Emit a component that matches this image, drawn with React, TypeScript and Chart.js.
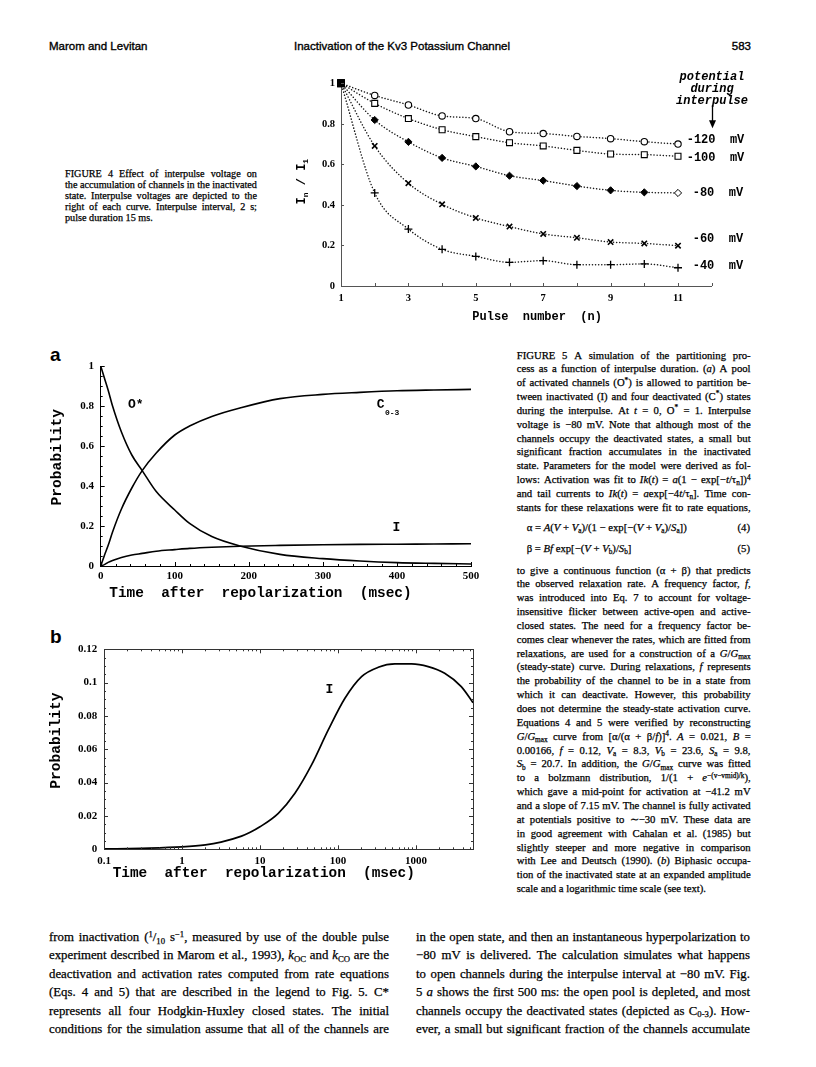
import React, { useEffect, useRef } from 'react';
import { Chart, registerables } from 'chart.js';

Chart.register(...registerables);

const MONO = '"Liberation Mono", "DejaVu Sans Mono", monospace';
const SERIF = '"Liberation Serif", "Times New Roman", serif';
const SANS = '"Liberation Sans", Arial, sans-serif';

/* ---------------- Figure 4 data ---------------- */
const pulseNumbers = [1, 2, 3, 4, 5, 6, 7, 8, 9, 10, 11];
const ratioAtMinus120 = [1.0, 0.94, 0.893, 0.839, 0.826, 0.761, 0.752, 0.738, 0.727, 0.712, 0.7];
const ratioAtMinus100 = [1.0, 0.901, 0.826, 0.771, 0.737, 0.707, 0.691, 0.669, 0.651, 0.648, 0.64];
const ratioAtMinus80 = [1.0, 0.819, 0.711, 0.632, 0.59, 0.544, 0.52, 0.493, 0.472, 0.462, 0.459];
const ratioAtMinus60 = [1.0, 0.691, 0.507, 0.403, 0.336, 0.293, 0.257, 0.238, 0.217, 0.21, 0.199];
const ratioAtMinus40 = [1.0, 0.459, 0.281, 0.181, 0.146, 0.117, 0.125, 0.105, 0.105, 0.109, 0.09];
const fig4XTickLabels = [1, 3, 5, 7, 9, 11];
const potentialLabels = ['-120  mV', '-100  mV', '-80  mV', '-60  mV', '-40  mV'];

/* ---------------- Figure 5a data ---------------- */
const timeA = [0, 5, 10, 16, 28, 42, 56, 75, 100, 120, 150, 188, 242, 300, 350, 400, 450, 500];
const openA = [1.0, 0.94, 0.88, 0.8, 0.67, 0.555, 0.477, 0.372, 0.28, 0.213, 0.147, 0.1, 0.058, 0.037, 0.025, 0.017, 0.013, 0.01];
const closedA = [0, 0.053, 0.102, 0.17, 0.285, 0.39, 0.477, 0.565, 0.655, 0.7, 0.748, 0.79, 0.837, 0.858, 0.868, 0.876, 0.88, 0.883];
const inactA = [0, 0.007, 0.018, 0.028, 0.043, 0.055, 0.063, 0.074, 0.082, 0.088, 0.094, 0.099, 0.103, 0.106, 0.108, 0.109, 0.11, 0.111];

/* ---------------- Figure 5b data ---------------- */
const timeB = [0.1, 0.3, 1, 2, 3.16, 5.8, 7.5, 10, 17.2, 28.1, 45.9, 75.2, 123, 201, 329, 538, 880, 1438, 2340, 3820, 5400];
const inactB = [0.0002, 0.0006, 0.0014, 0.0026, 0.0043, 0.0079, 0.0102, 0.0135, 0.0216, 0.0336, 0.0506, 0.0716, 0.0906, 0.1036, 0.1092, 0.1112, 0.1112, 0.1096, 0.1056, 0.0976, 0.088];
const decadesB = [0.1, 1, 10, 100, 1000];

/* ---------------- Text ---------------- */
const fig4Caption = [
  'FIGURE 4   Effect of interpulse voltage on',
  'the accumulation of channels in the inactivated',
  'state. Interpulse voltages are depicted to the',
  'right of each curve. Interpulse interval, 2 s;',
  'pulse duration 15 ms.',
];
const fig5CaptionTop = [
  'FIGURE 5   A simulation of the partitioning pro-',
  'cess as a function of interpulse duration. (_a_) A pool',
  'of activated channels (O^*^) is allowed to partition be-',
  'tween inactivated (I) and four deactivated (C^*^) states',
  'during the interpulse. At _t_ = 0, O^*^ = 1. Interpulse',
  'voltage is −80 mV. Note that although most of the',
  'channels occupy the deactivated states, a small but',
  'significant fraction accumulates in the inactivated',
  'state. Parameters for the model were derived as fol-',
  'lows: Activation was fit to _Ik_(_t_) = _a_(1 − exp[−_t_/τ~n~])^4^',
  'and tail currents to _Ik_(_t_) = _a_exp[−4_t_/τ~n~]. Time con-',
  'stants for these relaxations were fit to rate equations,',
];
const eq4 = 'α = _A_(_V_ + _V_~a~)/(1 − exp[−(_V_ + _V_~a~)/_S_~a~])';
const eq5 = 'β = _Bf_ exp[−(_V_ + _V_~b~)/_S_~b~]';
const fig5CaptionBottom = [
  'to give a continuous function (α + β) that predicts',
  'the observed relaxation rate. A frequency factor, _f_,',
  'was introduced into Eq. 7 to account for voltage-',
  'insensitive flicker between active-open and active-',
  'closed states. The need for a frequency factor be-',
  'comes clear whenever the rates, which are fitted from',
  'relaxations, are used for a construction of a _G_/_G_~max~',
  '(steady-state) curve. During relaxations, _f_ represents',
  'the probability of the channel to be in a state from',
  'which it can deactivate. However, this probability',
  'does not determine the steady-state activation curve.',
  'Equations 4 and 5 were verified by reconstructing',
  '_G_/_G_~max~ curve from [α/(α + β/_f_)]^4^. _A_ = 0.021, _B_ =',
  '0.00166, _f_ = 0.12, _V_~a~ = 8.3, _V_~b~ = 23.6, _S_~a~ = 9.8,',
  '_S_~b~ = 20.7. In addition, the _G_/_G_~max~ curve was fitted',
  'to a bolzmann distribution, 1/(1 + _e_^−(v−vmid)/k^),',
  'which gave a mid-point for activation at −41.2 mV',
  'and a slope of 7.15 mV. The channel is fully activated',
  'at potentials positive to ∼−30 mV. These data are',
  'in good agreement with Cahalan et al. (1985) but',
  'slightly steeper and more negative in comparison',
  'with Lee and Deutsch (1990). (_b_) Biphasic occupa-',
  'tion of the inactivated state at an expanded amplitude',
  'scale and a logarithmic time scale (see text).',
];
const bodyLeft = [
  'from inactivation (^1^/~10~ s^−1^, measured by use of the double pulse',
  'experiment described in Marom et al., 1993), _k_~OC~ and _k_~CO~ are the',
  'deactivation and activation rates computed from rate equations',
  '(Eqs. 4 and 5) that are described in the legend to Fig. 5. C*',
  'represents all four Hodgkin-Huxley closed states. The initial',
  'conditions for the simulation assume that all of the channels are',
];
const bodyRight = [
  'in the open state, and then an instantaneous hyperpolarization to',
  '−80 mV is delivered. The calculation simulates what happens',
  'to open channels during the interpulse interval at −80 mV. Fig.',
  '5 _a_ shows the first 500 ms: the open pool is depleted, and most',
  'channels occupy the deactivated states (depicted as C~0-3~). How-',
  'ever, a small but significant fraction of the channels accumulate',
];

/* ---------------- helpers ---------------- */
function stepValues(from: number, to: number, step: number) {
  const out: number[] = [];
  const n = Math.round((to - from) / step);
  for (let i = 0; i <= n; i++) out.push(+(from + i * step).toFixed(6));
  return out;
}

function logMinors(decades: number[], max: number) {
  const out: number[] = [];
  decades.forEach((d) => {
    for (let k = 2; k <= 9; k++) {
      const v = +(k * d).toPrecision(6);
      if (v <= max) out.push(v);
    }
  });
  return out;
}

const plainNumber = (v: any) => String(+Number(v).toFixed(3));

type TickSet = { scaleId: string; values: number[] | 'scale'; len: number; mirror?: boolean };

function makeTickPlugin(id: string, sets: TickSet[], color: string, frame: boolean) {
  return {
    id,
    afterDatasetsDraw(chart: any) {
      const { ctx, chartArea: a } = chart;
      ctx.save();
      ctx.strokeStyle = color;
      ctx.lineWidth = 1;
      ctx.beginPath();
      sets.forEach((s) => {
        const sc = chart.scales[s.scaleId];
        const vals = s.values === 'scale' ? sc.ticks.map((t: any) => t.value) : s.values;
        vals.forEach((v: number) => {
          const p = Math.round(sc.getPixelForValue(v)) + 0.5;
          if (sc.isHorizontal()) {
            ctx.moveTo(p, a.bottom);
            ctx.lineTo(p, a.bottom - s.len);
            if (s.mirror) {
              ctx.moveTo(p, a.top);
              ctx.lineTo(p, a.top + s.len);
            }
          } else {
            ctx.moveTo(a.left, p);
            ctx.lineTo(a.left + s.len, p);
            if (s.mirror) {
              ctx.moveTo(a.right, p);
              ctx.lineTo(a.right - s.len, p);
            }
          }
        });
      });
      ctx.stroke();
      if (frame) {
        ctx.strokeRect(Math.round(a.left) + 0.5, Math.round(a.top) + 0.5, Math.round(a.right - a.left), Math.round(a.bottom - a.top));
      }
      ctx.restore();
    },
  };
}

const noGrid = { display: false, drawTicks: false };

/* ---------------- Figure 4 ---------------- */
const fig4Series = [
  { name: '-120 mV', values: ratioAtMinus120, marker: 'circle', filled: false, radius: 3.2, bw: 1.1, openLast: false },
  { name: '-100 mV', values: ratioAtMinus100, marker: 'rect', filled: false, radius: 4.2, bw: 1.1, openLast: false },
  { name: '-80 mV', values: ratioAtMinus80, marker: 'rectRot', filled: true, radius: 3.6, bw: 1, openLast: true },
  { name: '-60 mV', values: ratioAtMinus60, marker: 'crossRot', filled: true, radius: 3.8, bw: 1.6, openLast: false },
  { name: '-40 mV', values: ratioAtMinus40, marker: 'cross', filled: true, radius: 4, bw: 1.3, openLast: false },
];

const fig4Decor = {
  id: 'fig4Decor',
  afterDraw(chart: any) {
    const { ctx, chartArea: a, scales } = chart;
    ctx.save();
    const ax = Math.round(scales.x.getPixelForValue(12)) + 0.5;
    const y0 = a.top + 21.7;
    const y1 = a.top + 45;
    ctx.strokeStyle = '#000';
    ctx.fillStyle = '#000';
    ctx.lineWidth = 1.3;
    ctx.beginPath();
    ctx.moveTo(ax, y0);
    ctx.lineTo(ax, y1 - 6);
    ctx.stroke();
    ctx.beginPath();
    ctx.moveTo(ax - 3.5, y1 - 8);
    ctx.lineTo(ax + 3.5, y1 - 8);
    ctx.lineTo(ax, y1);
    ctx.closePath();
    ctx.fill();
    const pieces = [
      { t: 'I', s: 12, dy: 0 },
      { t: 'n', s: 8, dy: 4 },
      { t: ' / ', s: 12, dy: 0 },
      { t: 'I', s: 12, dy: 0 },
      { t: '1', s: 8, dy: 4 },
    ];
    let total = 0;
    pieces.forEach((p) => {
      ctx.font = `bold ${p.s}px ${MONO}`;
      total += ctx.measureText(p.t).width;
    });
    ctx.translate(21.7, (a.top + a.bottom) / 2 - 3);
    ctx.rotate(-Math.PI / 2);
    ctx.textBaseline = 'middle';
    ctx.textAlign = 'left';
    let x = -total / 2;
    pieces.forEach((p) => {
      ctx.font = `bold ${p.s}px ${MONO}`;
      ctx.fillText(p.t, x, p.dy);
      x += ctx.measureText(p.t).width;
    });
    ctx.restore();
  },
};

function fig4Config() {
  const last = pulseNumbers.length - 1;
  return {
    type: 'line',
    data: {
      datasets: fig4Series.map((s) => ({
        label: s.name,
        data: pulseNumbers.map((n, i) => ({ x: n, y: s.values[i] })),
        borderColor: '#1a1a1a',
        borderWidth: 1.5,
        borderDash: [0.1, 3],
        borderCapStyle: 'round',
        cubicInterpolationMode: 'monotone',
        clip: false,
        pointStyle: (c: any) => (c.dataIndex === 0 ? 'rect' : s.marker),
        pointRadius: (c: any) => (c.dataIndex === 0 ? 4.5 : s.radius),
        pointBorderColor: '#000',
        pointBorderWidth: s.bw,
        pointBackgroundColor: (c: any) =>
          c.dataIndex === 0 ? '#000' : s.filled && !(s.openLast && c.dataIndex === last) ? '#000' : '#fff',
      })),
    },
    options: {
      animation: false,
      responsive: false,
      devicePixelRatio: 1,
      layout: { padding: { left: 0, top: 13.3, right: 58.3, bottom: 0 } },
      plugins: { legend: { display: false }, tooltip: { enabled: false } },
      scales: {
        x: {
          type: 'linear',
          min: 1,
          max: 12,
          grid: noGrid,
          border: { display: true, color: '#555', width: 1 },
          ticks: {
            stepSize: 1,
            autoSkip: false,
            maxRotation: 0,
            padding: 5.7,
            color: '#000',
            font: { family: SERIF, size: 10.5, weight: 'bold' },
            callback: (v: any) => (fig4XTickLabels.includes(v) ? String(v) : ''),
          },
          title: {
            display: true,
            text: '   Pulse  number  (n)',
            color: '#000',
            font: { family: MONO, size: 12, weight: 'bold' },
            padding: { top: 0, bottom: 16 },
          },
          afterFit: (sc: any) => {
            sc.height = 54;
          },
        },
        y: {
          type: 'linear',
          min: 0,
          max: 1,
          grid: noGrid,
          border: { display: true, color: '#555', width: 1 },
          ticks: {
            stepSize: 0.2,
            padding: 6,
            color: '#000',
            font: { family: SERIF, size: 10.5, weight: 'bold' },
            callback: plainNumber,
          },
          afterFit: (sc: any) => {
            sc.width = 61;
          },
        },
      },
    },
    plugins: [
      makeTickPlugin(
        'fig4Ticks',
        [
          { scaleId: 'x', values: 'scale', len: 3 },
          { scaleId: 'y', values: 'scale', len: 3 },
        ],
        '#555',
        false
      ),
      fig4Decor,
    ],
  };
}

/* ---------------- Figure 5a ---------------- */
function fig5aConfig() {
  const line = (values: number[], label: string) => ({
    label,
    data: timeA.map((t, i) => ({ x: t, y: values[i] })),
    borderColor: '#000',
    borderWidth: 1.6,
    pointRadius: 0,
    cubicInterpolationMode: 'monotone',
  });
  return {
    type: 'line',
    data: { datasets: [line(openA, 'O*'), line(closedA, 'C0-3'), line(inactA, 'I')] },
    options: {
      animation: false,
      responsive: false,
      devicePixelRatio: 1,
      layout: { padding: { left: 0, top: 21, right: 19, bottom: 0 } },
      plugins: { legend: { display: false }, tooltip: { enabled: false } },
      scales: {
        x: {
          type: 'linear',
          min: 0,
          max: 500,
          grid: noGrid,
          border: { display: true, color: '#000', width: 1 },
          ticks: {
            stepSize: 100,
            maxRotation: 0,
            padding: 3.4,
            color: '#000',
            font: { family: SERIF, size: 11, weight: 'bold' },
            callback: plainNumber,
          },
          title: {
            display: true,
            align: 'start',
            text: ' Time  after  repolarization  (msec)',
            color: '#000',
            font: { family: MONO, size: 14.4, weight: 'bold' },
            padding: { top: 0, bottom: 7.7 },
          },
          afterFit: (sc: any) => {
            sc.height = 44;
          },
        },
        y: {
          type: 'linear',
          min: 0,
          max: 1,
          grid: noGrid,
          border: { display: true, color: '#000', width: 1 },
          ticks: {
            stepSize: 0.2,
            padding: 6.7,
            color: '#000',
            font: { family: SERIF, size: 11, weight: 'bold' },
            callback: plainNumber,
          },
          title: {
            display: true,
            text: '  Probability',
            color: '#000',
            font: { family: MONO, size: 14.6, weight: 'bold' },
            padding: { top: 18.5, bottom: 0 },
          },
          afterFit: (sc: any) => {
            sc.width = 70.7;
          },
        },
      },
    },
    plugins: [
      makeTickPlugin(
        'fig5aTicks',
        [
          { scaleId: 'x', values: 'scale', len: 4 },
          { scaleId: 'x', values: stepValues(0, 500, 20), len: 2 },
          { scaleId: 'y', values: 'scale', len: 4 },
          { scaleId: 'y', values: stepValues(0, 1, 0.05), len: 2 },
        ],
        '#000',
        false
      ),
    ],
  };
}

/* ---------------- Figure 5b ---------------- */
function fig5bConfig() {
  return {
    type: 'line',
    data: {
      datasets: [
        {
          label: 'I',
          data: timeB.map((t, i) => ({ x: t, y: inactB[i] })),
          borderColor: '#000',
          borderWidth: 1.7,
          pointRadius: 0,
          cubicInterpolationMode: 'monotone',
        },
      ],
    },
    options: {
      animation: false,
      responsive: false,
      devicePixelRatio: 1,
      layout: { padding: { left: 0, top: 24.3, right: 17, bottom: 0 } },
      plugins: { legend: { display: false }, tooltip: { enabled: false } },
      scales: {
        x: {
          type: 'logarithmic',
          min: 0.1,
          max: 5400,
          grid: noGrid,
          border: { display: true, color: '#333', width: 1 },
          ticks: {
            autoSkip: false,
            maxRotation: 0,
            padding: 4.9,
            color: '#000',
            font: { family: SERIF, size: 11, weight: 'bold' },
            callback: (v: any) => {
              const l = Math.log10(v);
              if (Math.abs(l - Math.round(l)) > 1e-6) return '';
              return v >= 1 ? String(Math.round(v)) : v.toFixed(1);
            },
          },
          title: {
            display: true,
            align: 'start',
            text: ' Time  after  repolarization  (msec)',
            color: '#000',
            font: { family: MONO, size: 14.4, weight: 'bold' },
            padding: { top: 0, bottom: 8 },
          },
          afterFit: (sc: any) => {
            sc.height = 40.7;
          },
        },
        y: {
          type: 'linear',
          min: 0,
          max: 0.12,
          grid: noGrid,
          border: { display: true, color: '#333', width: 1 },
          ticks: {
            stepSize: 0.02,
            padding: 6.7,
            color: '#000',
            font: { family: SERIF, size: 11, weight: 'bold' },
            callback: plainNumber,
          },
          title: {
            display: true,
            text: '  Probability',
            color: '#000',
            font: { family: MONO, size: 14.6, weight: 'bold' },
            padding: { top: 17.9, bottom: 0 },
          },
          afterFit: (sc: any) => {
            sc.width = 74;
          },
        },
      },
    },
    plugins: [
      makeTickPlugin(
        'fig5bTicks',
        [
          { scaleId: 'x', values: decadesB, len: 4, mirror: true },
          { scaleId: 'x', values: logMinors(decadesB, 5400), len: 2, mirror: true },
          { scaleId: 'y', values: 'scale', len: 4, mirror: true },
          { scaleId: 'y', values: stepValues(0, 0.12, 0.005), len: 2, mirror: true },
        ],
        '#333',
        true
      ),
    ],
  };
}

/* ---------------- components ---------------- */
function rich(s: string) {
  const parts = s.split(/(_[^_]+_|\^[^^]+\^|~[^~]+~)/).filter((p) => p !== '');
  return parts.map((p, i) => {
    if (p.length > 2 && p[0] === '_' && p[p.length - 1] === '_') return <i key={i}>{p.slice(1, -1)}</i>;
    if (p.length > 2 && p[0] === '^' && p[p.length - 1] === '^')
      return (
        <span key={i} style={{ fontSize: '0.68em', position: 'relative', top: '-0.5em' }}>
          {p.slice(1, -1)}
        </span>
      );
    if (p.length > 2 && p[0] === '~' && p[p.length - 1] === '~')
      return (
        <span key={i} style={{ fontSize: '0.68em', position: 'relative', top: '0.3em' }}>
          {p.slice(1, -1)}
        </span>
      );
    return <React.Fragment key={i}>{p}</React.Fragment>;
  });
}

type LineProps = {
  text: string;
  x: number;
  y: number;
  w?: number;
  size: number;
  lh?: number;
  justify?: boolean;
  family?: string;
  align?: 'left' | 'right' | 'center';
  weight?: any;
  italic?: boolean;
  stroke?: number;
};

function TextLine({ text, x, y, w = 0, size, lh, justify = false, family = SERIF, align = 'left', weight = 'normal', italic = false, stroke = 0.25 }: LineProps) {
  const h = lh || size * 1.2;
  const base: React.CSSProperties = {
    position: 'absolute',
    top: y - h / 2,
    height: h,
    lineHeight: `${h}px`,
    fontSize: size,
    fontFamily: family,
    fontWeight: weight,
    fontStyle: italic ? 'italic' : 'normal',
    whiteSpace: 'pre',
    color: '#000',
    WebkitTextStroke: stroke ? `${stroke}px #000` : undefined,
  } as any;
  if (justify) {
    const words = text.split(' ').filter(Boolean);
    return (
      <div style={{ ...base, left: x, width: w, display: 'flex', justifyContent: 'space-between' }}>
        {words.map((wd, i) => (
          <span key={i}>{rich(wd)}</span>
        ))}
      </div>
    );
  }
  if (align === 'right') return <div style={{ ...base, right: 816 - x, textAlign: 'right' }}>{rich(text)}</div>;
  if (align === 'center') return <div style={{ ...base, left: x - 150, width: 300, textAlign: 'center' }}>{rich(text)}</div>;
  return <div style={{ ...base, left: x }}>{rich(text)}</div>;
}

function ChartCanvas({ left, top, width, height, make }: { left: number; top: number; width: number; height: number; make: () => any }) {
  const ref = useRef<HTMLCanvasElement | null>(null);
  useEffect(() => {
    if (!ref.current) return;
    const chart = new Chart(ref.current, make());
    return () => chart.destroy();
  }, [make]);
  return (
    <canvas
      ref={ref}
      width={width}
      height={height}
      style={{ position: 'absolute', left, top, width, height, display: 'block' }}
    />
  );
}

const potentialLabelPos = [
  { x: 686.7, y: 140 },
  { x: 686.7, y: 158.3 },
  { x: 692.7, y: 193.3 },
  { x: 692.7, y: 239 },
  { x: 692.7, y: 265.7 },
];

export default function App() {
  return (
    <div
      style={{
        position: 'absolute',
        left: 0,
        top: 0,
        width: 816,
        height: 1067,
        background: '#fff',
        overflow: 'hidden',
      }}
    >
      {/* running header */}
      <TextLine text="Marom and Levitan" x={49} y={47} size={11.5} family={SANS} stroke={0.35} />
      <TextLine text="Inactivation of the Kv3 Potassium Channel" x={294} y={47} size={11.5} family={SANS} stroke={0.35} />
      <TextLine text="583" x={751} y={47} size={11.5} family={SANS} align="right" stroke={0.35} />

      {/* Figure 4 */}
      <ChartCanvas left={280} top={70} width={490} height={270} make={fig4Config} />
      <TextLine text="potential" x={712} y={77.3} size={12} family={MONO} weight="bold" italic align="center" stroke={0} />
      <TextLine text="during" x={712} y={89} size={12} family={MONO} weight="bold" italic align="center" stroke={0} />
      <TextLine text="interpulse" x={712} y={100.7} size={12} family={MONO} weight="bold" italic align="center" stroke={0} />
      {potentialLabels.map((t, i) => (
        <TextLine key={t} text={t} x={potentialLabelPos[i].x} y={potentialLabelPos[i].y} size={12} family={MONO} weight="bold" stroke={0} />
      ))}
      {fig4Caption.map((t, i) => (
        <TextLine key={i} text={t} x={65} y={173.3 + i * 11.1} w={192} size={10.2} lh={11} justify={i < fig4Caption.length - 1} />
      ))}

      {/* Figure 5a */}
      <TextLine text="a" x={50} y={355} size={19} family={SANS} weight="bold" stroke={0} />
      <ChartCanvas left={30} top={345} width={460} height={265} make={fig5aConfig} />
      <TextLine text="O*" x={128} y={405} size={13} family={MONO} weight="bold" stroke={0} />
      <TextLine text="C" x={376.7} y={405} size={13} family={MONO} weight="bold" stroke={0} />
      <TextLine text="0-3" x={385} y={413} size={8} family={MONO} weight="bold" stroke={0} />
      <TextLine text="I" x={392.4} y={528} size={13} family={MONO} weight="bold" stroke={0} />

      {/* Figure 5b */}
      <TextLine text="b" x={50} y={637} size={19} family={SANS} weight="bold" stroke={0} />
      <ChartCanvas left={30} top={625} width={460} height={265} make={fig5bConfig} />
      <TextLine text="I" x={325.4} y={689.3} size={13} family={MONO} weight="bold" stroke={0} />

      {/* Figure 5 caption */}
      {fig5CaptionTop.map((t, i) => (
        <TextLine key={'t' + i} text={t} x={516.7} y={355 + i * 13.85} w={234} size={10.7} lh={13} justify />
      ))}
      <TextLine text={eq4} x={526.7} y={527} size={10.7} />
      <TextLine text="(4)" x={750} y={527} size={10.7} align="right" />
      <TextLine text={eq5} x={526.7} y={548} size={10.7} />
      <TextLine text="(5)" x={750} y={548} size={10.7} align="right" />
      {fig5CaptionBottom.map((t, i) => (
        <TextLine key={'b' + i} text={t} x={516.7} y={570 + i * 13.85} w={234} size={10.7} lh={13} justify={i < fig5CaptionBottom.length - 1} />
      ))}

      {/* body text */}
      {bodyLeft.map((t, i) => (
        <TextLine key={'l' + i} text={t} x={49} y={937 + i * 18.4} w={340} size={12.8} lh={16} justify />
      ))}
      {bodyRight.map((t, i) => (
        <TextLine key={'r' + i} text={t} x={416} y={937 + i * 18.4} w={334} size={12.8} lh={16} justify />
      ))}
    </div>
  );
}
